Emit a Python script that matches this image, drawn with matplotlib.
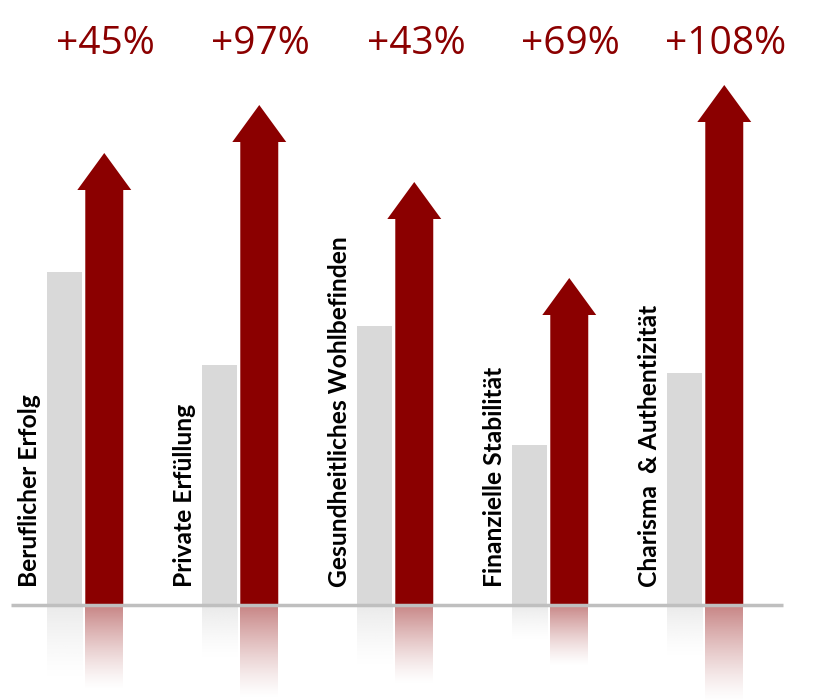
"""Ausgangswert vs. Steigerung je Lebensbereich, Pfeile mit Spiegelung unter der Grundlinie."""

import numpy as np
import matplotlib
matplotlib.use("Agg")
import matplotlib.pyplot as plt
from matplotlib.colors import to_rgb

BEREICHE = [
    "Beruflicher Erfolg",
    "Private Erfüllung",
    "Gesundheitliches Wohlbefinden",
    "Finanzielle Stabilität",
    "Charisma  & Authentizität",
]
VORHER = [333, 240, 279, 160, 232]
NACHHER = [452, 500, 423, 327, 520]
STEIGERUNG = ["+45%", "+97%", "+43%", "+69%", "+108%"]

GRAU = "#d9d9d9"
ROT = "#8b0000"
GRAU_W = 0.226
ROT_W = 0.245
LUECKE = 0.023


def spiegelung(ax, x_links, breite, hoehe, farbe, alpha0, anteil):
    # Farbverlauf von alpha0 an der Grundlinie bis transparent
    laenge = hoehe * anteil
    verlauf = np.zeros((80, 1, 4))
    verlauf[..., :3] = to_rgb(farbe)
    verlauf[:, 0, 3] = alpha0 * np.linspace(1, 0, 80) ** 1.3
    ax.imshow(verlauf, extent=(x_links, x_links + breite, -laenge, 0), origin="upper",
              aspect="auto", interpolation="bilinear", zorder=1)


fig = plt.figure(figsize=(8.22, 7.0), dpi=100)
ax = fig.add_axes([0, 0, 1, 1])

x = np.arange(len(BEREICHE))
x_grau = x - LUECKE / 2 - GRAU_W
x_rot = x + LUECKE / 2 + ROT_W / 2

ax.bar(x_grau, VORHER, width=GRAU_W, align="edge", color=GRAU, zorder=2)
for xr, h in zip(x_rot, NACHHER):
    ax.arrow(xr, 0, 0, h, width=ROT_W, head_width=0.348, head_length=37,
             length_includes_head=True, color=ROT, linewidth=0, zorder=2)

for xg, xr, hg, hr in zip(x_grau, x_rot, VORHER, NACHHER):
    spiegelung(ax, xg, GRAU_W, hg, GRAU, 0.55, 0.22)
    spiegelung(ax, xr - ROT_W / 2, ROT_W, hr, ROT, 0.48, 0.19)

ax.hlines(0, x[0] - 0.47, x[-1] + 0.51, color="#bfbfbf", linewidth=2.5, zorder=3)

for xg, name in zip(x_grau, BEREICHE):
    ax.text(xg - 0.11, 18, name, rotation=90, ha="center", va="bottom",
            fontsize=17.7, fontweight="bold", family="Lato", color="black", zorder=4)

for xr, txt in zip(x_rot, STEIGERUNG):
    ax.text(xr + 0.01, 561, txt, ha="center", va="center", fontsize=28,
            family="Open Sans", color=ROT, zorder=4)

ax.set_xlim(-83.5 / 155, (822 - 83.5) / 155)
ax.set_ylim(-95, 605)
ax.axis("off")

fig.savefig("out.png", dpi=100, facecolor="white")
